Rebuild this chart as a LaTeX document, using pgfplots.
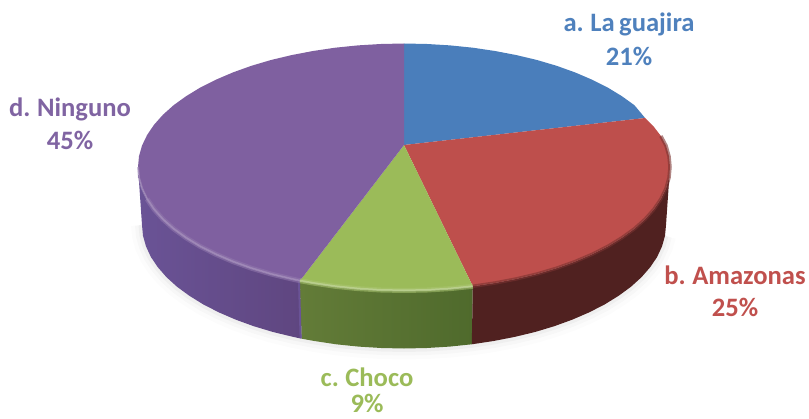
\documentclass[border=0pt]{standalone}
\usepackage{fontspec}
\setmainfont[WordSpace=0.75]{Carlito}
\usepackage{pgfplots}
\pgfplotsset{compat=1.18}
\definecolor{cblue}{HTML}{4A7EBB}
\definecolor{cred}{HTML}{BE4F4C}
\definecolor{cgreen}{HTML}{9BBB59}
\definecolor{cpurple}{HTML}{7F60A0}
\definecolor{tblue}{HTML}{4F81BD}
\definecolor{tred}{HTML}{C0504D}
\definecolor{tgreen}{HTML}{9BBB59}
\definecolor{tpurple}{HTML}{8064A2}
\definecolor{pl}{HTML}{6A5396}
\definecolor{pr}{HTML}{5F4680}
\definecolor{gl}{HTML}{637C38}
\definecolor{gr}{HTML}{4F6A2C}
\begin{document}
\begin{tikzpicture}
\useasboundingbox (0,0) rectangle (809bp,419bp);
\begin{axis}[
  at={(0,0)}, anchor=south west, scale only axis,
  width=809bp, height=419bp,
  xmin=0, xmax=809, ymin=0, ymax=419, y dir=reverse,
  hide axis, clip=true,
  every axis plot/.append style={line join=round},
]
% soft shadow
\addplot[draw=black, opacity=0.012, line width=22bp, no markers, forget plot] coordinates {(142,225)(143,235.8)(146,246.4)(150.9,257)(157.8,267.2)(166.5,277.2)(177.1,286.8)(189.4,295.8)(203.3,304.4)(218.7,312.3)(235.6,319.6)(253.7,326.2)(273,332)(293.3,336.9)(314.4,341)(336.2,344.3)(358.5,346.6)(381.2,348)(404,348.5)(426.8,348)(449.5,346.6)(471.8,344.3)(493.6,341)(514.7,336.9)(535,332)(554.3,326.2)(572.4,319.6)(589.3,312.3)(604.7,304.4)(618.6,295.8)(630.9,286.8)(641.5,277.2)(650.2,267.2)(657.1,257)(662,246.4)(665,235.8)};
\addplot[draw=black, opacity=0.02, line width=14bp, no markers, forget plot] coordinates {(142,225)(143,235.8)(146,246.4)(150.9,257)(157.8,267.2)(166.5,277.2)(177.1,286.8)(189.4,295.8)(203.3,304.4)(218.7,312.3)(235.6,319.6)(253.7,326.2)(273,332)(293.3,336.9)(314.4,341)(336.2,344.3)(358.5,346.6)(381.2,348)(404,348.5)(426.8,348)(449.5,346.6)(471.8,344.3)(493.6,341)(514.7,336.9)(535,332)(554.3,326.2)(572.4,319.6)(589.3,312.3)(604.7,304.4)(618.6,295.8)(630.9,286.8)(641.5,277.2)(650.2,267.2)(657.1,257)(662,246.4)(665,235.8)};
\addplot[draw=black, opacity=0.03, line width=7bp, no markers, forget plot] coordinates {(142,225)(143,235.8)(146,246.4)(150.9,257)(157.8,267.2)(166.5,277.2)(177.1,286.8)(189.4,295.8)(203.3,304.4)(218.7,312.3)(235.6,319.6)(253.7,326.2)(273,332)(293.3,336.9)(314.4,341)(336.2,344.3)(358.5,346.6)(381.2,348)(404,348.5)(426.8,348)(449.5,346.6)(471.8,344.3)(493.6,341)(514.7,336.9)(535,332)(554.3,326.2)(572.4,319.6)(589.3,312.3)(604.7,304.4)(618.6,295.8)(630.9,286.8)(641.5,277.2)(650.2,267.2)(657.1,257)(662,246.4)(665,235.8)};
% side walls
\addplot[draw=none, left color=pl, right color=pr, no markers, forget plot] coordinates {
(138,167)(139,177.8)(142,188.4)(147.1,199)(154,209.2)(162.9,219.2)(173.6,228.8)(186.1,237.8)(200.2,246.4)(215.9,254.3)(233,261.6)(251.4,268.2)(271,274)(291.6,278.9)(300,280.7)
(301.6,338.7)(293.3,336.9)(273,332)(253.7,326.2)(235.6,319.6)(218.7,312.3)(203.3,304.4)(189.4,295.8)(177.1,286.8)(166.5,277.2)(157.8,267.2)(150.9,257)(146,246.4)(143,235.8)(142,225)} -- cycle;
\addplot[draw=none, left color=gl, right color=gr, no markers, forget plot] coordinates {
(300,280.7)(313,283)(335.2,286.3)(357.8,288.6)(380.8,290)(404,290.5)(427.2,290)(450.2,288.6)(472.8,286.3)
(471.8,344.3)(449.5,346.6)(426.8,348)(404,348.5)(381.2,348)(358.5,346.6)(336.2,344.3)(314.4,341)(301.6,338.7)} -- cycle;
\addplot[draw=none, fill=cred!42!black, no markers, forget plot] coordinates {
(472.8,286.3)(495,283)(516.4,278.9)(537,274)(556.6,268.2)(575,261.6)(592.1,254.3)(607.8,246.4)(621.9,237.8)(634.4,228.8)(645.1,219.2)(654,209.2)(660.9,199)(666,188.4)(669,177.8)(670,167)
(666,225)(665,235.8)(662,246.4)(657.1,257)(650.2,267.2)(641.5,277.2)(630.9,286.8)(618.6,295.8)(604.7,304.4)(589.3,312.3)(572.4,319.6)(554.3,326.2)(535,332)(514.7,336.9)(493.6,341)(471.8,344.3)} -- cycle;
% lighter seam on the purple wall
\addplot[draw=pl, line width=2bp, no markers, forget plot] coordinates {(299,282)(300.6,338)};
% top slices
\addplot[draw=none, fill=cblue, no markers, forget plot] coordinates {
(404,145)(404,43.5)(427.2,44)(450.2,45.4)(472.8,47.7)(495,51)(516.4,55.1)(537,60)(556.6,65.8)(575,72.4)(592.1,79.7)(607.8,87.6)(621.9,96.2)(634.4,105.2)(645.1,118)} -- cycle;
\addplot[draw=none, fill=cred, no markers, forget plot] coordinates {
(404,145)(645.1,118)(654,127)(660.9,136)(666,145.6)(669,156.2)(670,167)(669,177.8)(666,188.4)(660.9,199)(654,209.2)(645.1,219.2)(634.4,228.8)(621.9,237.8)(607.8,246.4)(592.1,254.3)(575,261.6)(556.6,268.2)(537,274)(516.4,278.9)(495,283)(472.8,286.3)} -- cycle;
\addplot[draw=none, fill=cgreen, no markers, forget plot] coordinates {
(404,145)(472.8,286.3)(450.2,288.6)(427.2,290)(404,290.5)(380.8,290)(357.8,288.6)(335.2,286.3)(313,283)(300,280.7)} -- cycle;
\addplot[draw=none, fill=cpurple, no markers, forget plot] coordinates {
(404,145)(300,280.7)(291.6,278.9)(271,274)(251.4,268.2)(233,261.6)(215.9,254.3)(200.2,246.4)(186.1,237.8)(173.6,228.8)(162.9,219.2)(154,209.2)(147.1,199)(142,188.4)(139,177.8)(138,167)(139,156.2)(142,145.6)(147.1,135)(154,124.8)(162.9,114.8)(173.6,105.2)(186.1,96.2)(200.2,87.6)(215.9,79.7)(233,72.4)(251.4,65.8)(271,60)(291.6,55.1)(313,51)(335.2,47.7)(357.8,45.4)(380.8,44)(404,43.5)} -- cycle;
% rim highlights
\addplot[draw=cpurple!85!white, opacity=0.55, line width=5bp, no markers, forget plot] coordinates {
(300,280.7)(291.6,278.9)(271,274)(251.4,268.2)(233,261.6)(215.9,254.3)(200.2,246.4)(186.1,237.8)(173.6,228.8)(162.9,219.2)(154,209.2)(147.1,199)};
\addplot[draw=cpurple!65!white, opacity=0.6, line width=2bp, no markers, forget plot] coordinates {
(300,280.7)(291.6,278.9)(271,274)(251.4,268.2)(233,261.6)(215.9,254.3)(200.2,246.4)(186.1,237.8)(173.6,228.8)(162.9,219.2)(154,209.2)(147.1,199)(142,188.4)(139,177.8)(138,167)};
\addplot[draw=cgreen!85!white, opacity=0.55, line width=5bp, no markers, forget plot] coordinates {
(300,280.7)(313,283)(335.2,286.3)(357.8,288.6)(380.8,290)(404,290.5)(427.2,290)(450.2,288.6)(472.8,286.3)};
\addplot[draw=cgreen!60!white, opacity=0.7, line width=2bp, no markers, forget plot] coordinates {
(300,280.7)(313,283)(335.2,286.3)(357.8,288.6)(380.8,290)(404,290.5)(427.2,290)(450.2,288.6)(472.8,286.3)};
\addplot[draw=cred!65!black, opacity=0.6, line width=3.5bp, no markers, forget plot] coordinates {
(472.8,286.3)(495,283)(516.4,278.9)(537,274)(556.6,268.2)(575,261.6)(592.1,254.3)(607.8,246.4)(621.9,237.8)(634.4,228.8)(645.1,219.2)(654,209.2)(660.9,199)(666,188.4)(669,177.8)(670,167)(669,156.2)(666,145.6)(660.9,136)};
% labels
\node[inner sep=0pt, font=\fontsize{26.6bp}{30bp}\selectfont\bfseries, text=tblue] at (axis cs:629,24) {a. La guajira};
\node[inner sep=0pt, font=\fontsize{26.6bp}{30bp}\selectfont\bfseries, text=tblue] at (axis cs:629,56) {21\%};
\node[inner sep=0pt, font=\fontsize{26.6bp}{30bp}\selectfont\bfseries, text=tred] at (axis cs:735,275) {b. Amazonas};
\node[inner sep=0pt, font=\fontsize{26.6bp}{30bp}\selectfont\bfseries, text=tred] at (axis cs:735,307) {25\%};
\node[inner sep=0pt, font=\fontsize{26.6bp}{30bp}\selectfont\bfseries, text=tgreen] at (axis cs:367,377) {c. Choco};
\node[inner sep=0pt, font=\fontsize{26.6bp}{30bp}\selectfont\bfseries, text=tgreen] at (axis cs:367,403) {9\%};
\node[inner sep=0pt, font=\fontsize{26.6bp}{30bp}\selectfont\bfseries, text=tpurple] at (axis cs:70,109) {d. Ninguno};
\node[inner sep=0pt, font=\fontsize{26.6bp}{30bp}\selectfont\bfseries, text=tpurple] at (axis cs:70,140) {45\%};
\end{axis}
\end{tikzpicture}
\end{document}
